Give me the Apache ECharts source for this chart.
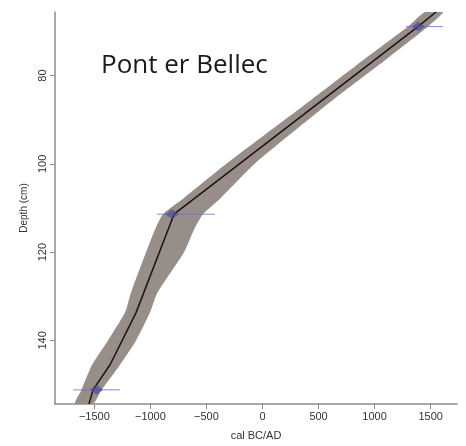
<!DOCTYPE html>
<html>
<head>
<meta charset="utf-8">
<script src="https://cdn.jsdelivr.net/npm/echarts@6/dist/echarts.min.js"></script>
<style>
  html, body { margin: 0; padding: 0; background: #ffffff; }
  #chart { width: 466px; height: 446px; }
</style>
</head>
<body>
<div id="chart"></div>
<script>
// Age-depth model for Pont er Bellec: depth (cm) against calibrated age (cal BC/AD)

// Uncertainty envelope of the model, sampled at these depths
var bandDepth = [154.4, 151.4, 145.5, 140.0, 133.7, 129.3, 120.0, 114.9, 111.4, 107.9, 99.7, 85.7, 76.2, 68.9, 65.6];
var bandLow   = [-1673, -1619, -1520, -1378, -1227, -1175, -1039, -959, -888, -709, -308, 424, 914, 1298, 1450];
var bandHigh  = [-1512, -1440, -1271, -1128, -1004, -940, -700, -611, -531, -379, -58, 620, 1110, 1476, 1611];

// Best-fit model line
var modelDepth = [154.4, 151.2, 145.5, 133.7, 111.4, 68.9, 65.6];
var modelAge   = [-1548, -1512, -1360, -1128, -789, 1387, 1548];

// Dated samples: depth, calibrated age and its range
var dateDepth = [68.9, 111.4, 151.2];
var dateAge   = [1390, -807, -1480];
var dateLow   = [1280, -941, -1690];
var dateHigh  = [1610, -424, -1271];

// Tick values
var ageTicks   = [-1500, -1000, -500, 0, 500, 1000, 1500];
var depthTicks = [80, 100, 120, 140];

var bandPolygon = [];
for (var i = 0; i < bandDepth.length; i++) bandPolygon.push([bandLow[i], bandDepth[i]]);
for (var j = bandDepth.length - 1; j >= 0; j--) bandPolygon.push([bandHigh[j], bandDepth[j]]);

var modelLine = modelDepth.map(function (d, k) { return [modelAge[k], d]; });
var datePoints = dateDepth.map(function (d, k) { return [dateAge[k], d]; });
var dateBars = dateDepth.map(function (d, k) { return [dateLow[k], dateHigh[k], d]; });

var axisGrey = '#8c8c8c';
var labelFont = 'Liberation Sans';

var chart = echarts.init(document.getElementById('chart'), null, { renderer: 'canvas' });
chart.setOption({
  backgroundColor: '#ffffff',
  animation: false,
  title: {
    text: 'Pont er Bellec',
    left: 96,
    top: 48,
    textStyle: { fontFamily: 'Open Sans', fontSize: 26, fontWeight: 'normal', color: '#1a1a1a' }
  },
  grid: { left: 55, right: 9, top: 12, bottom: 33 },
  xAxis: {
    type: 'value',
    min: -1851,
    max: 1735,
    name: 'cal BC/AD',
    nameLocation: 'middle',
    nameGap: 26,
    nameTextStyle: { fontFamily: labelFont, fontSize: 11, color: '#333' },
    axisLine: { show: true, onZero: false, lineStyle: { color: axisGrey, width: 1.5 } },
    axisTick: { show: true, length: 5, customValues: ageTicks, lineStyle: { color: axisGrey } },
    axisLabel: {
      customValues: ageTicks, margin: 7,
      fontFamily: labelFont, fontSize: 11, color: '#333',
      formatter: function (v) { return v < 0 ? '\u2212' + Math.abs(v) : String(v); }
    },
    splitLine: { show: false }
  },
  yAxis: {
    type: 'value',
    inverse: true,
    min: 65.6,
    max: 154.4,
    name: 'Depth (cm)',
    nameLocation: 'middle',
    nameGap: 14,
    nameRotate: 90,
    nameTextStyle: { fontFamily: labelFont, fontSize: 10, color: '#333' },
    axisLine: { show: true, onZero: false, lineStyle: { color: axisGrey, width: 1.5 } },
    axisTick: { show: true, length: 5, customValues: depthTicks, lineStyle: { color: axisGrey } },
    axisLabel: {
      customValues: depthTicks, rotate: 90, margin: 7,
      fontFamily: labelFont, fontSize: 11, color: '#333'
    },
    splitLine: { show: false }
  },
  series: [
    {
      type: 'custom',
      clip: true,
      silent: true,
      data: [[0, 0]],
      renderItem: function (params, api) {
        var pts = bandPolygon.map(function (p) { return api.coord(p); });
        return { type: 'polygon', shape: { points: pts, smooth: 0.2 }, style: { fill: '#988e89' } };
      },
      z: 1
    },
    {
      type: 'line',
      data: modelLine,
      showSymbol: false,
      lineStyle: { color: '#1c1010', width: 1.5 },
      clip: true,
      z: 3
    },
    {
      type: 'custom',
      data: dateBars,
      encode: { x: [0, 1], y: 2 },
      renderItem: function (params, api) {
        var a = api.coord([api.value(0), api.value(2)]);
        var b = api.coord([api.value(1), api.value(2)]);
        return {
          type: 'line',
          shape: { x1: a[0], y1: a[1], x2: b[0], y2: b[1] },
          style: { stroke: 'rgba(110,110,190,0.8)', lineWidth: 1 }
        };
      },
      z: 4
    },
    {
      type: 'scatter',
      data: datePoints,
      symbol: 'diamond',
      symbolSize: [13, 10],
      itemStyle: { color: 'rgba(70,70,150,0.8)' },
      z: 5
    }
  ]
});
</script>
</body>
</html>
